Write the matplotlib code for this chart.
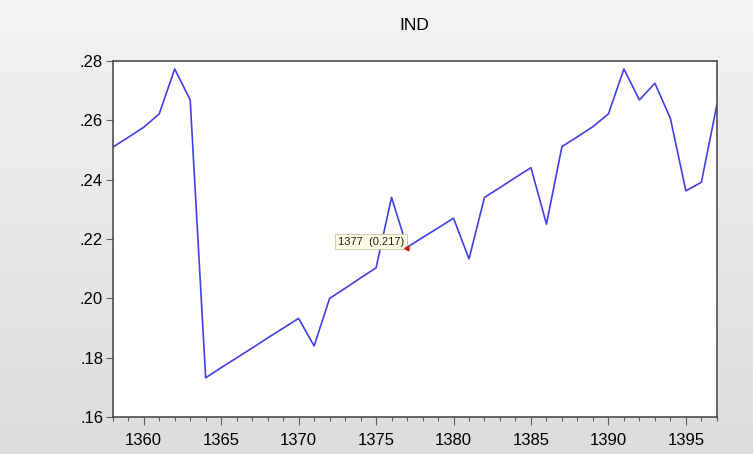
import numpy as np
import matplotlib
matplotlib.use("Agg")
import matplotlib.pyplot as plt
from matplotlib.ticker import MultipleLocator, FuncFormatter

# ── data ──────────────────────────────────────────────────────────────────────
years = list(range(1358, 1398))
ind = [0.2509, 0.2542, 0.2576, 0.2621, 0.2772, 0.2668, 0.1733, 0.1767,
       0.1800, 0.1833, 0.1867, 0.1900, 0.1933, 0.1840, 0.2000, 0.2034,
       0.2069, 0.2103, 0.2340, 0.2172, 0.2205, 0.2237, 0.2270, 0.2133,
       0.2340, 0.2373, 0.2407, 0.2440, 0.2250, 0.2511, 0.2544, 0.2578,
       0.2621, 0.2772, 0.2668, 0.2724, 0.2606, 0.2362, 0.2391, 0.2651]
tip_year, tip_value = 1377, 0.217

# ── figure ────────────────────────────────────────────────────────────────────
plt.rcParams["font.family"] = ["Liberation Sans", "DejaVu Sans"]
fig = plt.figure(figsize=(7.53, 4.54), dpi=100)

# soft grey vertical gradient behind everything
bg = fig.add_axes([0, 0, 1, 1], zorder=-10)
grad = np.linspace(0, 1, 256).reshape(-1, 1)
top_c = np.array([0.955, 0.955, 0.955])
bot_c = np.array([0.865, 0.865, 0.865])
img = top_c + (bot_c - top_c) * grad[..., None]
bg.imshow(img, aspect="auto", extent=[0, 1, 0, 1], origin="upper")
bg.axis("off")

ax = fig.add_axes([0.1497, 0.0808, 0.8023, 0.7855])
ax.set_facecolor("white")
ax.plot(years, ind, color="#4040e6", lw=1.2)

ax.set_xlim(1358, 1397)
ax.set_ylim(0.16, 0.28)
ax.xaxis.set_major_locator(MultipleLocator(5))
ax.xaxis.set_minor_locator(MultipleLocator(1))
ax.yaxis.set_major_locator(MultipleLocator(0.02))
ax.yaxis.set_major_formatter(FuncFormatter(lambda v, _: f"{v:.2f}".lstrip("0")))

for s in ax.spines.values():
    s.set_color("#404040")
    s.set_linewidth(1.1)
ax.tick_params(axis="x", which="major", length=6, width=0.8, color="#606060",
               labelsize=12, pad=5)
ax.tick_params(axis="x", which="minor", length=3, width=0.8, color="#606060")
ax.tick_params(axis="y", length=5, width=0.8, color="#606060", labelsize=12, pad=2)

ax.set_title("IND", fontsize=12.5, pad=22)

# EViews-style hover tooltip
ax.plot([tip_year], [tip_value], marker=(3, 0, 90), ms=4, color="#d01010",
        zorder=5)
ax.annotate(f"{tip_year}  ({tip_value:.3f})", xy=(tip_year, tip_value),
            xytext=(-2, 1), textcoords="offset points", ha="right", va="bottom",
            fontsize=8, color="#202020",
            bbox=dict(boxstyle="square,pad=0.25", fc="#ffffe6", ec="#cfcfb0",
                      lw=0.8))

fig.savefig("out.png", dpi=100)
